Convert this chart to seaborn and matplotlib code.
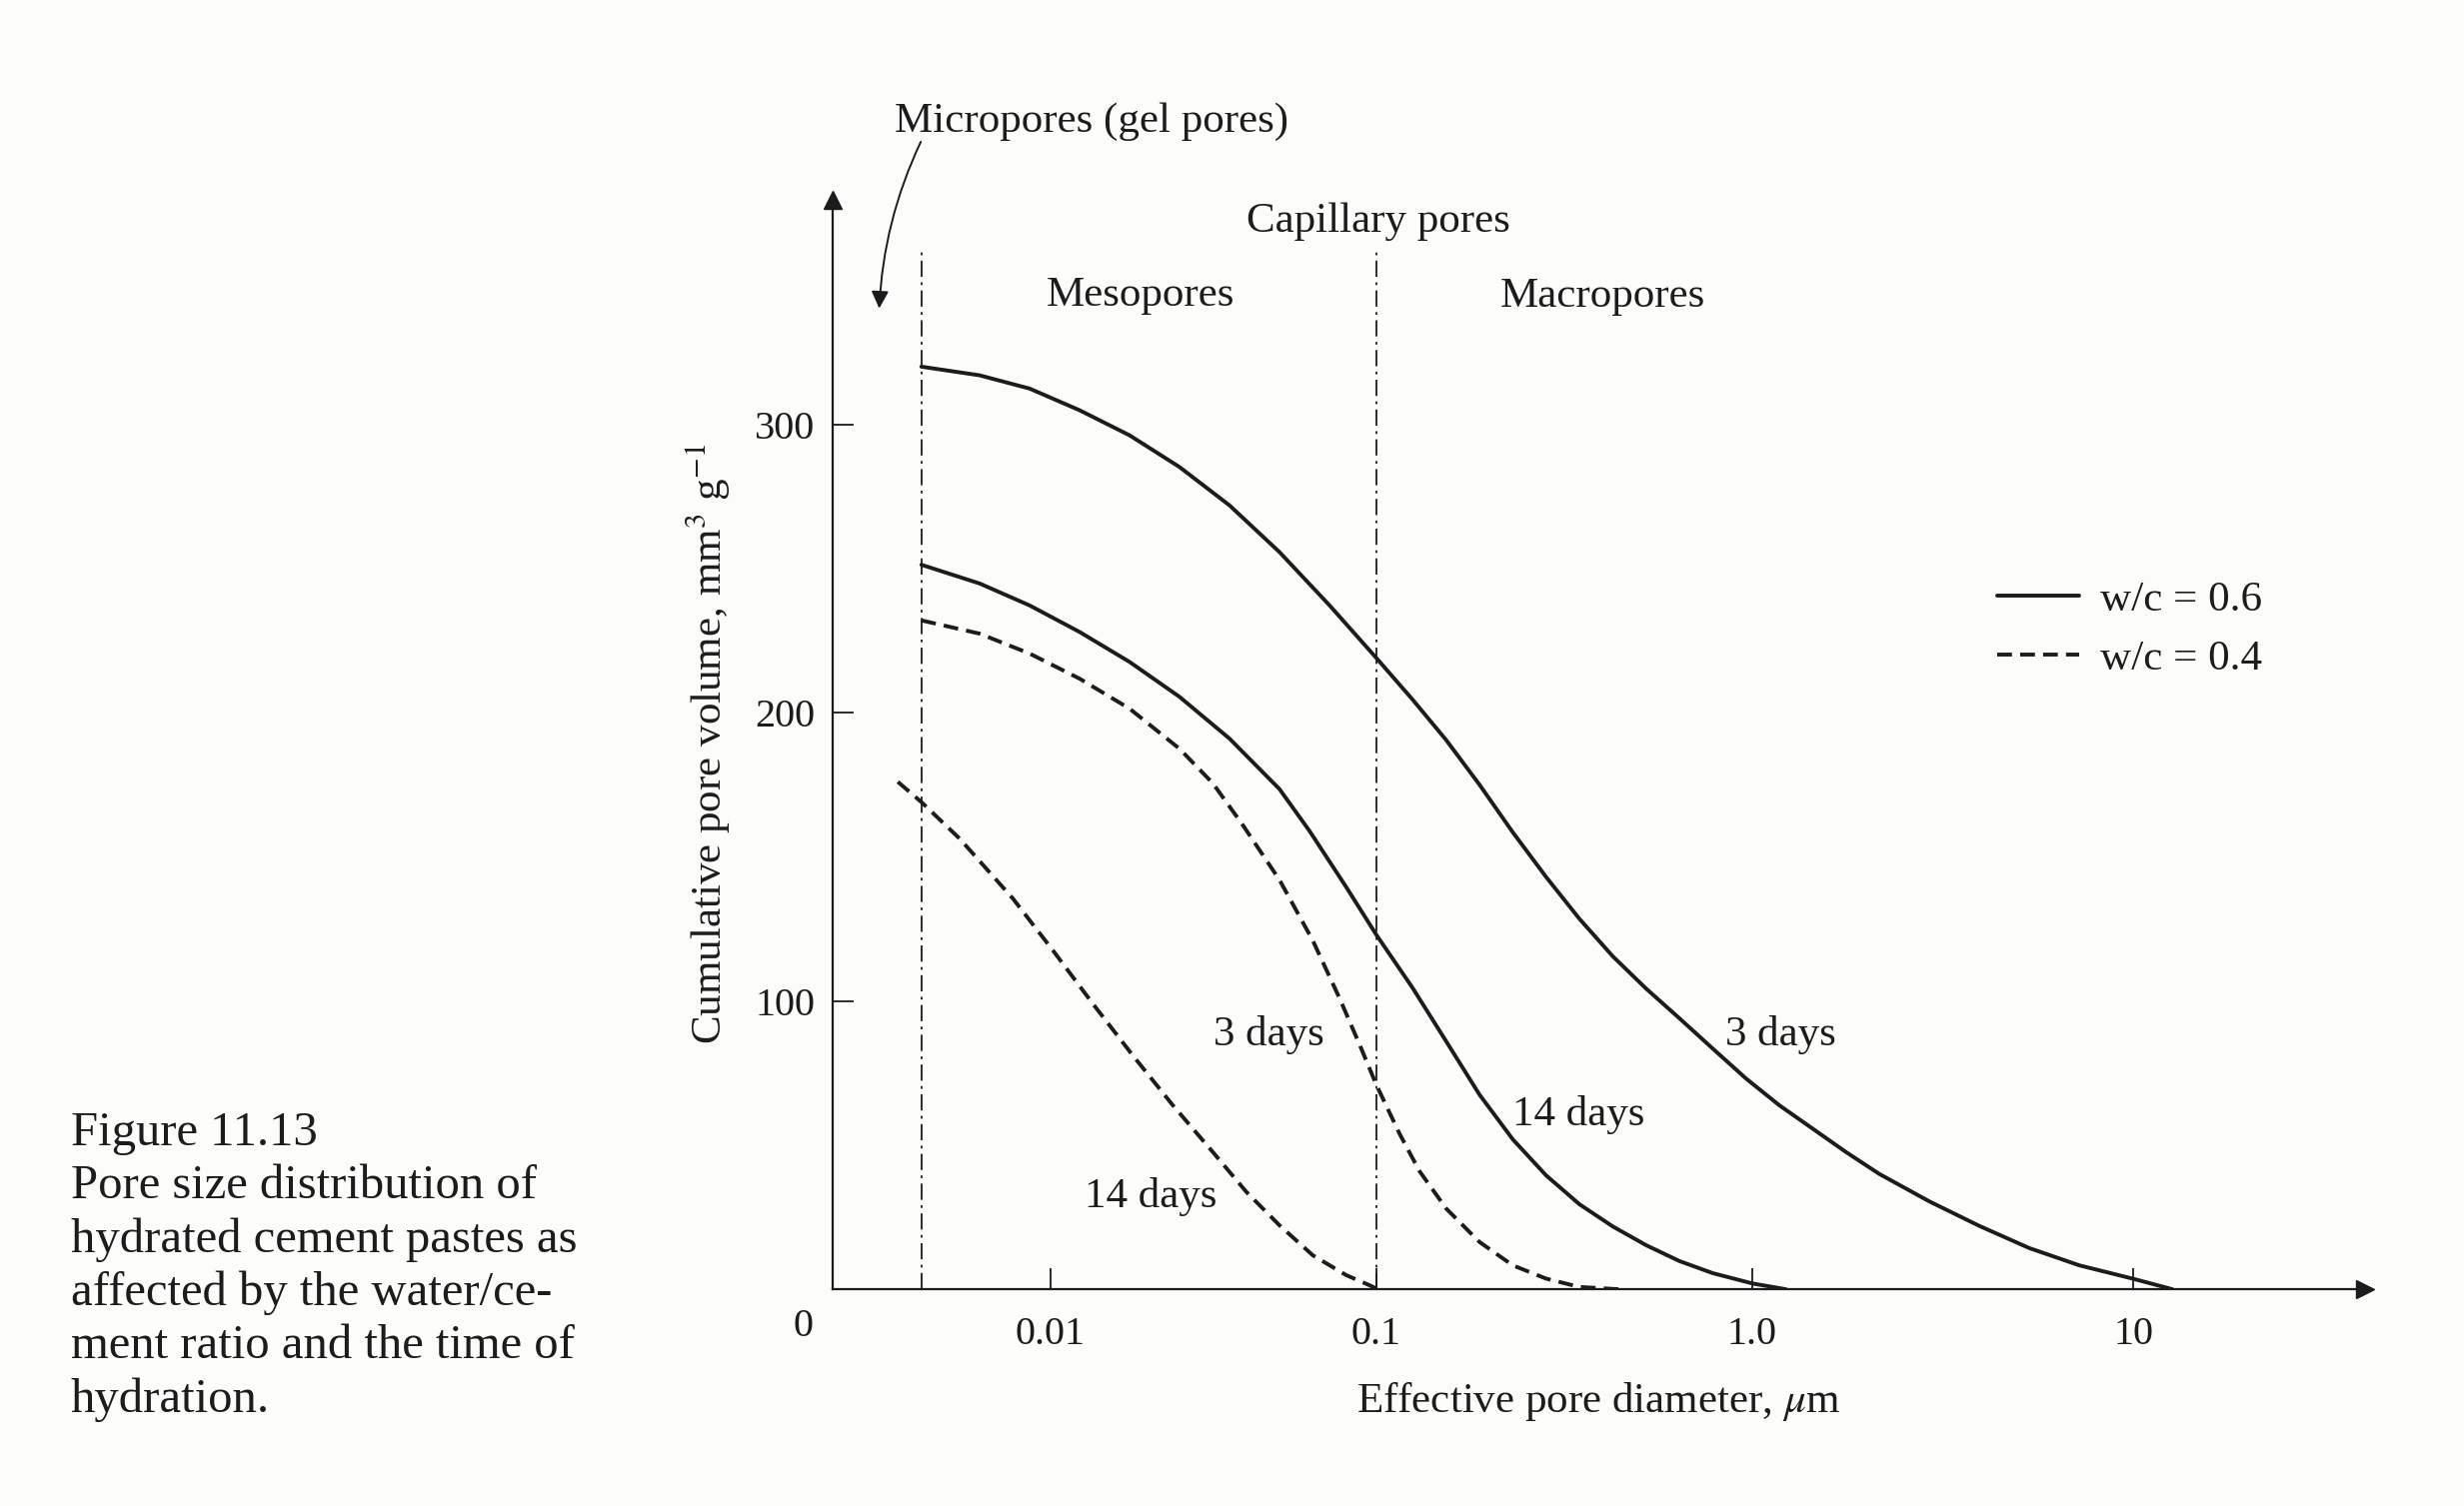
import numpy as np
import pandas as pd
import matplotlib
matplotlib.use("Agg")
import matplotlib.pyplot as plt
import seaborn as sns

# values (pore diameter in um, cumulative volume in mm3/g)
diam_06_3d = [0.00402, 0.006067, 0.008636, 0.01229, 0.0175, 0.0249, 0.03546, 0.05047,
              0.07191, 0.1, 0.125, 0.1535, 0.1883, 0.2309, 0.2832, 0.3473, 0.426,
              0.5225, 0.6408, 0.786, 0.964, 1.18, 1.443, 1.764, 2.158, 2.917, 3.945,
              5.335, 7.223, 9.962, 12.68]
vol_06_3d = [320, 317.0, 312.4, 304.9, 296.2, 285.2, 271.9, 255.7, 237.2, 219, 204.5,
             190.5, 175.0, 158.5, 143.0, 128.5, 115.5, 104.3, 94.0, 83.5, 73.1, 63.8,
             55.7, 47.6, 40.0, 30.5, 22.0, 14.3, 8.3, 3.7, 0]

diam_06_14d = [0.00402, 0.006067, 0.008636, 0.01229, 0.0175, 0.0249, 0.03546, 0.05047,
               0.06238, 0.08089, 0.1, 0.125, 0.1535, 0.1883, 0.2309, 0.2832, 0.3473,
               0.426, 0.5225, 0.6408, 0.786, 1.004, 1.228]
vol_06_14d = [251.3, 244.8, 237.2, 228.0, 217.6, 205.5, 191.0, 173.5, 159.0, 139.5,
              123.0, 104.5, 86.0, 67.5, 52.0, 39.5, 29.5, 21.8, 15.3, 9.8, 5.6, 2.0, 0]

diam_04_3d = [0.00402, 0.006067, 0.008636, 0.01229, 0.0175, 0.0249, 0.03152, 0.03896,
              0.05047, 0.06385, 0.07712, 0.0888, 0.1, 0.1153, 0.1303, 0.1535, 0.1883,
              0.2309, 0.2832, 0.3473, 0.4436]
vol_04_3d = [232.0, 227.4, 220.5, 211.8, 201.4, 187.5, 175.5, 161.0, 142.0, 121.0,
             101.0, 85.0, 71.0, 54.0, 41.0, 28.0, 16.4, 8.3, 3.7, 0.8, 0]

diam_04_14d = [0.003405, 0.00402, 0.00527, 0.007678, 0.01019, 0.01351, 0.01791, 0.02377,
               0.03152, 0.03993, 0.05047, 0.06385, 0.08089, 0.09535, 0.101]
vol_04_14d = [176.0, 169.0, 156.3, 135.5, 117.5, 99.0, 81.1, 63.8, 47.6, 33.8, 22.2,
              11.8, 4.9, 1.4, 0]

ratios = ["w/c = 0.6", "w/c = 0.4"]
x_ticks = [0.01, 0.1, 1, 10]
x_tick_labels = ["0.01", "0.1", "1.0", "10"]
y_ticks = [100, 200, 300]
separators = [0.00402, 0.1]

caption = ("Figure 11.13\nPore size distribution of\nhydrated cement pastes as\n"
           "affected by the water/ce-\nment ratio and the time of\nhydration.")

frames = []
for d, v, r, a in [(diam_06_3d, vol_06_3d, ratios[0], "3 days"),
                   (diam_06_14d, vol_06_14d, ratios[0], "14 days"),
                   (diam_04_3d, vol_04_3d, ratios[1], "3 days"),
                   (diam_04_14d, vol_04_14d, ratios[1], "14 days")]:
    frames.append(pd.DataFrame({"diameter": d, "volume": v, "ratio": r, "age": a}))
df = pd.concat(frames, ignore_index=True)

# the printed log axis has slightly unequal decades, so use a piecewise log scale
log_knots = np.array([-6.0, -2.0, -1.0, 0.0, 1.0, 5.0])
pos_knots = np.array([-161.2, 668.4, 875.8, 1114.9, 1357.5, 2327.9])


def forward(x):
    x = np.asarray(x, dtype=float)
    lx = np.log10(np.where(x > 0, x, 1e-6))
    return np.interp(lx, log_knots, pos_knots)


def inverse(p):
    return 10.0 ** np.interp(np.asarray(p, dtype=float), pos_knots, log_knots)


paper = "#fcfcfa"
ink = "#1c1c1c"

sns.set_theme(style="ticks")
plt.rcParams["font.family"] = ["Liberation Serif", "DejaVu Serif"]
plt.rcParams["mathtext.fontset"] = "stix"

fig = plt.figure(figsize=(24.65, 15.07), dpi=100, facecolor=paper)
ax = fig.add_axes([0.33801, 0.1439, 0.62181, 0.72367])
ax.set_facecolor(paper)

sns.lineplot(data=df, x="diameter", y="volume", style="ratio", units="age",
             estimator=None, sort=False, color=ink, linewidth=2.8,
             style_order=ratios, dashes={ratios[0]: "", ratios[1]: (3.8, 2.1)}, ax=ax)

ax.set_xscale("function", functions=(forward, inverse))
ax.set_xlim(0.0021514, 40.55)
ax.set_ylim(0, 378)
ax.set_xticks(x_ticks, labels=x_tick_labels)
ax.xaxis.set_minor_locator(matplotlib.ticker.NullLocator())
ax.set_yticks(y_ticks)
ax.tick_params(direction="in", length=15, width=1.3, labelsize=29, colors=ink, pad=13)
ax.tick_params(axis="x", pad=19)

sns.despine(ax=ax)
for s in ["left", "bottom"]:
    ax.spines[s].set_linewidth(1.6)
    ax.spines[s].set_color(ink)
ax.plot(1, 0, marker=">", color=ink, ms=13, transform=ax.transAxes, clip_on=False)
ax.plot(0, 1, marker="^", color=ink, ms=13, transform=ax.transAxes, clip_on=False)

ax.vlines(separators, 0, 360, colors=ink, linewidth=1.3, linestyles=[(0, (9, 3, 1.5, 3))])

ax.set_xlabel("Effective pore diameter, $\\mu$m", fontsize=31, color=ink, labelpad=20)
ax.set_ylabel("Cumulative pore volume, mm$^3$ g$^{-1}$", fontsize=31, color=ink, labelpad=16)
ax.text(-0.0195, -0.0346, "0", transform=ax.transAxes, ha="center", va="center",
        fontsize=29, color=ink)

txt = dict(ha="center", va="center", fontsize=31, color=ink)
ax.text(0.01338, 405, "Micropores (gel pores)", **txt)
ax.text(0.101, 370.2, "Capillary pores", **txt)
ax.text(0.01889, 344.8, "Mesopores", **txt)
ax.text(0.4017, 344.2, "Macropores", **txt)
ax.text(0.04679, 88.1, "3 days", **txt)
ax.text(1.192, 88.1, "3 days", **txt)
ax.text(0.3457, 60.4, "14 days", **txt)
ax.text(0.02039, 32.0, "14 days", **txt)
ax.annotate("", xy=(0.002985, 340.2), xytext=(0.004005, 398), annotation_clip=False,
            arrowprops=dict(arrowstyle="-|>", color=ink, lw=1.4, mutation_scale=26,
                            connectionstyle="arc3,rad=0.1", shrinkA=0, shrinkB=0))

sns.move_legend(ax, "upper left", bbox_to_anchor=(0.760, 0.650), title=None,
                frameon=False, fontsize=31, handlelength=1.9, handletextpad=0.5,
                labelspacing=0.45, borderpad=0, borderaxespad=0)
for t in ax.get_legend().get_texts():
    t.set_color(ink)

fig.text(0.0287, 0.2618, caption, ha="left", va="top", fontsize=35, linespacing=1.26,
         color=ink)

fig.savefig("out.png", dpi=100, facecolor=paper)
